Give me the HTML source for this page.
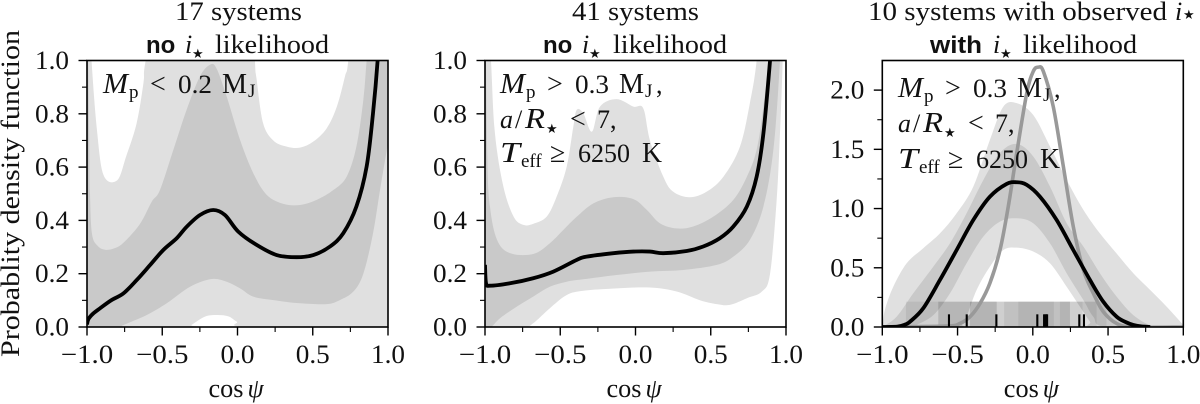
<!DOCTYPE html>
<html>
<head>
<meta charset="utf-8">
<title>Probability density of cos psi</title>
<style>
html,body{margin:0;padding:0;background:#fff;}
svg{display:block;}
text{font-family:"Liberation Serif","DejaVu Serif",serif;fill:#111;font-size:26px;}
.i{font-style:italic;}
.cap{font-size:28px;}
.sub{font-size:19px;}
.b{font-family:"Liberation Sans","DejaVu Sans",sans-serif;font-weight:bold;font-size:24px;}
.star{font-family:"DejaVu Sans",sans-serif;font-size:13px;}
</style>
</head>
<body>
<svg id="fig" width="1200" height="404" viewBox="0 0 1200 404" xmlns="http://www.w3.org/2000/svg">
  <g id="plots"></g>

  <text transform="translate(19,357) rotate(-90)" textLength="327" lengthAdjust="spacingAndGlyphs">Probablity density function</text>

  <text x="175" y="20" textLength="127" lengthAdjust="spacingAndGlyphs">17 systems</text>
  <text y="53"><tspan class="b" x="146">no</tspan><tspan class="i" x="185">i</tspan><tspan class="star" x="192" dy="5">★</tspan><tspan x="215" dy="-5" textLength="114" lengthAdjust="spacingAndGlyphs">likelihood</tspan></text>

  <text x="572" y="20" textLength="127" lengthAdjust="spacingAndGlyphs">41 systems</text>
  <text y="53"><tspan class="b" x="543">no</tspan><tspan class="i" x="582">i</tspan><tspan class="star" x="589" dy="5">★</tspan><tspan x="613" dy="-5" textLength="114" lengthAdjust="spacingAndGlyphs">likelihood</tspan></text>

  <text y="20"><tspan x="868" textLength="299" lengthAdjust="spacingAndGlyphs">10 systems with observed</tspan><tspan class="i" x="1175">i</tspan><tspan class="star" x="1183" dy="-1">★</tspan></text>
  <text y="53"><tspan class="b" x="930" textLength="52" lengthAdjust="spacingAndGlyphs">with</tspan><tspan class="i" x="993">i</tspan><tspan class="star" x="1000" dy="5">★</tspan><tspan x="1023" dy="-5" textLength="114" lengthAdjust="spacingAndGlyphs">likelihood</tspan></text>

  <text y="93"><tspan class="i cap" x="103" textLength="25" lengthAdjust="spacingAndGlyphs">M</tspan><tspan class="sub" x="129" dy="5">p</tspan><tspan class="cap" x="150" dy="-5">&lt;</tspan><tspan x="178" textLength="34" lengthAdjust="spacingAndGlyphs">0.2</tspan><tspan class="cap" x="222" textLength="25" lengthAdjust="spacingAndGlyphs">M</tspan><tspan class="sub" x="248" dy="4">J</tspan></text>

  <g transform="translate(500,0)">
    <text y="93"><tspan class="i cap" x="0" textLength="25" lengthAdjust="spacingAndGlyphs">M</tspan><tspan class="sub" x="26" dy="5">p</tspan><tspan class="cap" x="47" dy="-5">&gt;</tspan><tspan x="75" textLength="34" lengthAdjust="spacingAndGlyphs">0.3</tspan><tspan class="cap" x="119" textLength="25" lengthAdjust="spacingAndGlyphs">M</tspan><tspan class="sub" x="145" dy="4">J</tspan><tspan x="156" dy="-4">,</tspan></text>
    <text y="128"><tspan class="i" x="0">a</tspan><tspan x="15">/</tspan><tspan class="i cap" x="25" textLength="20" lengthAdjust="spacingAndGlyphs">R</tspan><tspan class="star" x="46" dy="5">★</tspan><tspan class="cap" x="70" dy="-5">&lt;</tspan><tspan x="97">7,</tspan></text>
    <text y="162"><tspan class="i cap" x="0" textLength="20" lengthAdjust="spacingAndGlyphs">T</tspan><tspan class="sub" x="21" dy="5">eff</tspan><tspan class="cap" x="50" dy="-5">≥</tspan><tspan x="78" textLength="52" lengthAdjust="spacingAndGlyphs">6250</tspan><tspan class="cap" x="142" textLength="20" lengthAdjust="spacingAndGlyphs">K</tspan></text>
  </g>

  <g transform="translate(898,0)">
    <text y="97"><tspan class="i cap" x="0" textLength="25" lengthAdjust="spacingAndGlyphs">M</tspan><tspan class="sub" x="26" dy="5">p</tspan><tspan class="cap" x="47" dy="-5">&gt;</tspan><tspan x="75" textLength="34" lengthAdjust="spacingAndGlyphs">0.3</tspan><tspan class="cap" x="119" textLength="25" lengthAdjust="spacingAndGlyphs">M</tspan><tspan class="sub" x="145" dy="4">J</tspan><tspan x="156" dy="-4">,</tspan></text>
    <text y="132"><tspan class="i" x="0">a</tspan><tspan x="15">/</tspan><tspan class="i cap" x="25" textLength="20" lengthAdjust="spacingAndGlyphs">R</tspan><tspan class="star" x="46" dy="5">★</tspan><tspan class="cap" x="70" dy="-5">&lt;</tspan><tspan x="97">7,</tspan></text>
    <text y="168"><tspan class="i cap" x="0" textLength="20" lengthAdjust="spacingAndGlyphs">T</tspan><tspan class="sub" x="21" dy="5">eff</tspan><tspan class="cap" x="50" dy="-5">≥</tspan><tspan x="78" textLength="52" lengthAdjust="spacingAndGlyphs">6250</tspan><tspan class="cap" x="142" textLength="20" lengthAdjust="spacingAndGlyphs">K</tspan></text>
  </g>
</svg>
<script>
// ---------- tick data ----------
const xTickValues = [-1, -0.5, 0, 0.5, 1];
const xTickLabels = ['−1.0', '−0.5', '0.0', '0.5', '1.0'];
const xMinorValues = [-0.75, -0.25, 0.25, 0.75];
const yTickValuesA = [0, 0.2, 0.4, 0.6, 0.8, 1];
const yTickLabelsA = ['0.0', '0.2', '0.4', '0.6', '0.8', '1.0'];
const yMinorValuesA = [0.1, 0.3, 0.5, 0.7, 0.9];
const yTickValuesB = [0, 0.5, 1, 1.5, 2];
const yTickLabelsB = ['0.0', '0.5', '1.0', '1.5', '2.0'];
const yMinorValuesB = [0.25, 0.75, 1.25, 1.75];

// ---------- panel 1 ----------
const p1OuterUpX = [-1, -0.97, -0.934, -0.89, -0.80, -0.74, -0.67, -0.625, -0.61, -0.5, 0, 0.1, 0.116, 0.127, 0.17, 0.238, 0.327, 0.415, 0.504, 0.593, 0.66, 0.714, 0.736, 0.78, 1];
const p1OuterUpY = [1.3, 1.0, 0.74, 0.57, 0.55, 0.64, 0.765, 0.915, 1.0, 1.3, 1.3, 1.3, 1.0, 0.93, 0.765, 0.70, 0.677, 0.673, 0.696, 0.746, 0.827, 0.94, 1.0, 1.3, 1.3];
const p1OuterLoX = [-1, -0.32, -0.305, -0.216, -0.138, -0.06, -0.005, 0.07, 1];
const p1OuterLoY = [0, 0, 0.008, 0.039, 0.045, 0.04, 0.02, 0, 0];
const p1InnerUpX = [-1, -0.985, -0.98, -0.967, -0.93, -0.88, -0.82, -0.76, -0.65, -0.57, -0.515, -0.426, -0.338, -0.25, -0.183, -0.14, -0.072, 0.017, 0.105, 0.194, 0.305, 0.415, 0.526, 0.637, 0.725, 0.79, 0.836, 0.858, 0.9, 1];
const p1InnerUpY = [1.3, 0.7, 0.5, 0.35, 0.305, 0.29, 0.295, 0.315, 0.385, 0.47, 0.514, 0.665, 0.815, 0.94, 0.984, 0.971, 0.865, 0.702, 0.577, 0.496, 0.462, 0.458, 0.477, 0.514, 0.564, 0.677, 0.852, 1.0, 1.3, 1.3];
const p1InnerLoX = [-1, -0.78, -0.76, -0.603, -0.47, -0.315, -0.172, -0.072, 0.017, 0.105, 0.238, 0.415, 0.593, 0.68, 0.77, 0.836, 0.90, 0.947, 1];
const p1InnerLoY = [0, 0, 0.007, 0.045, 0.089, 0.151, 0.18, 0.17, 0.145, 0.114, 0.101, 0.089, 0.086, 0.101, 0.133, 0.2, 0.35, 0.514, 0.69];
const p1MeanX = [-1, -0.99, -0.96, -0.914, -0.84, -0.758, -0.67, -0.58, -0.493, -0.404, -0.338, -0.25, -0.161, -0.083, 0.005, 0.127, 0.26, 0.393, 0.504, 0.615, 0.703, 0.79, 0.858, 0.90, 0.931, 0.95];
const p1MeanY = [0.01, 0.03, 0.05, 0.07, 0.10, 0.126, 0.176, 0.233, 0.289, 0.333, 0.376, 0.42, 0.439, 0.42, 0.358, 0.308, 0.27, 0.262, 0.27, 0.302, 0.352, 0.452, 0.602, 0.80, 1.0, 1.2];

// ---------- panel 2 ----------
const p2OuterUpX = [-1, -0.96, -0.934, -0.878, -0.81, -0.745, -0.68, -0.59, -0.524, -0.457, -0.413, -0.39, -0.347, -0.29, -0.236, -0.125, -0.014, 0.052, 0.096, 0.185, 0.25, 0.36, 0.473, 0.584, 0.694, 0.76, 0.805, 0.85, 1];
const p2OuterUpY = [1.5, 1.0, 0.727, 0.527, 0.414, 0.383, 0.387, 0.414, 0.489, 0.602, 0.752, 0.815, 0.802, 0.733, 0.827, 0.855, 0.827, 0.82, 0.70, 0.564, 0.508, 0.487, 0.508, 0.564, 0.677, 0.84, 1.0, 1.3, 1.3];
const p2OuterLoX = [-1, -0.745, -0.68, -0.57, -0.457, -0.347, -0.125, 0.096, 0.273, 0.43, 0.54, 0.627, 0.74, 0.84, 0.894, 0.938, 0.96, 0.978, 0.99, 1];
const p2OuterLoY = [0, 0, 0.014, 0.07, 0.12, 0.136, 0.145, 0.148, 0.133, 0.10, 0.086, 0.083, 0.108, 0.133, 0.2, 0.477, 0.727, 1.0, 1.3, 1.3];
const p2InnerUpX = [-1, -0.985, -0.967, -0.92, -0.834, -0.68, -0.57, -0.48, -0.39, -0.28, -0.147, -0.014, 0.074, 0.163, 0.273, 0.384, 0.517, 0.65, 0.74, 0.805, 0.85, 0.883, 0.92, 1];
const p2InnerUpY = [1.3, 0.65, 0.452, 0.327, 0.277, 0.274, 0.314, 0.364, 0.414, 0.464, 0.487, 0.48, 0.44, 0.389, 0.37, 0.377, 0.414, 0.477, 0.564, 0.665, 0.827, 1.0, 1.3, 1.3];
const p2InnerLoX = [-1, -0.96, -0.9, -0.79, -0.68, -0.57, -0.457, -0.347, -0.125, 0.096, 0.318, 0.54, 0.65, 0.76, 0.85, 0.916, 0.96, 0.98, 1];
const p2InnerLoY = [0, 0, 0.033, 0.076, 0.114, 0.151, 0.17, 0.179, 0.195, 0.208, 0.214, 0.233, 0.264, 0.327, 0.452, 0.665, 1.0, 1.3, 1.3];
const p2MeanX = [-1, -0.993, -0.967, -0.834, -0.68, -0.546, -0.39, -0.325, -0.147, -0.014, 0.096, 0.185, 0.34, 0.45, 0.56, 0.65, 0.74, 0.805, 0.85, 0.894, 0.92];
const p2MeanY = [0.233, 0.164, 0.155, 0.164, 0.183, 0.208, 0.252, 0.264, 0.277, 0.283, 0.283, 0.277, 0.285, 0.302, 0.333, 0.377, 0.452, 0.564, 0.727, 1.0, 1.2];

// ---------- panel 3 ----------
const p3OuterUpX = [-1, -0.98, -0.927, -0.838, -0.728, -0.617, -0.506, -0.395, -0.285, -0.196, -0.107, 0.003, 0.114, 0.225, 0.336, 0.446, 0.557, 0.668, 0.779, 0.889, 1];
const p3OuterUpY = [0.017, 0.158, 0.34, 0.538, 0.665, 0.79, 0.96, 1.186, 1.58, 1.86, 1.89, 1.79, 1.524, 1.242, 0.989, 0.79, 0.62, 0.454, 0.313, 0.172, 0.017];
const p3OuterLoX = [-1, -0.5, -0.47, -0.44, -0.373, -0.285, -0.196, -0.107, 0.003, 0.114, 0.225, 0.313, 0.38, 0.413, 1];
const p3OuterLoY = [0, 0, 0.02, 0.087, 0.313, 0.51, 0.65, 0.67, 0.637, 0.538, 0.34, 0.172, 0.045, 0, 0];
const p3InnerUpX = [-1, -0.905, -0.794, -0.661, -0.55, -0.44, -0.329, -0.218, -0.107, 0.003, 0.114, 0.225, 0.336, 0.446, 0.557, 0.668, 0.779, 0.889, 1];
const p3InnerUpY = [0, 0.087, 0.285, 0.51, 0.707, 0.96, 1.24, 1.47, 1.546, 1.44, 1.186, 0.876, 0.68, 0.454, 0.256, 0.10, 0.017, 0, 0];
const p3InnerLoX = [-1, -0.80, -0.772, -0.661, -0.55, -0.44, -0.329, -0.218, -0.107, 0.003, 0.114, 0.225, 0.336, 0.402, 0.49, 1];
const p3InnerLoY = [0, 0, 0.017, 0.10, 0.285, 0.538, 0.763, 0.89, 0.918, 0.876, 0.707, 0.454, 0.228, 0.087, 0, 0];
const p3MeanX = [-1, -0.9, -0.85, -0.816, -0.728, -0.617, -0.506, -0.395, -0.285, -0.174, -0.107, -0.04, 0.048, 0.158, 0.269, 0.38, 0.468, 0.557, 0.62, 0.668, 0.72, 0.78];
const p3MeanY = [0, 0.003, 0.02, 0.045, 0.158, 0.397, 0.65, 0.904, 1.10, 1.208, 1.222, 1.2, 1.10, 0.904, 0.65, 0.397, 0.214, 0.087, 0.04, 0.017, 0.005, 0];
const p3GrayX = [-1, -0.573, -0.484, -0.417, -0.35, -0.285, -0.218, -0.163, -0.107, -0.04, 0.003, 0.037, 0.07, 0.136, 0.203, 0.269, 0.336, 0.402, 0.468, 0.557, 0.668, 1];
const p3GrayY = [0, 0.008, 0.03, 0.087, 0.2, 0.37, 0.65, 1.017, 1.468, 1.975, 2.158, 2.194, 2.158, 1.86, 1.355, 0.848, 0.482, 0.285, 0.13, 0.03, 0, 0];
const rugValues = [-0.557, -0.439, -0.242, 0.03, 0.075, 0.084, 0.09, 0.095, 0.309, 0.34];
const rugHeight = 0.107;
const intervalLo = [-0.843, -0.628, -0.628, -0.417, -0.417, -0.19, -0.19, -0.096, 0.14, 0.18];
const intervalHi = [-0.24, -0.24, 0.14, -0.19, 0.33, 0.247, 0.247, 0.14, 0.49, 0.424];
const intervalTop = 0.214;

// ---------- drawing ----------
const NS = 'http://www.w3.org/2000/svg';
const root = document.getElementById('plots');
const AX_TOP = 60.5, AX_BOTTOM = 327, AX_WIDTH = 301;

function make(parent, tag, attrs) {
  const el = document.createElementNS(NS, tag);
  for (const k in attrs) el.setAttribute(k, attrs[k]);
  parent.appendChild(el);
  return el;
}
function smooth(pts) {
  let d = '';
  for (let i = 0; i < pts.length - 1; i++) {
    const p0 = pts[Math.max(0, i - 1)], p1 = pts[i], p2 = pts[i + 1], p3 = pts[Math.min(pts.length - 1, i + 2)];
    const c1x = p1[0] + (p2[0] - p0[0]) / 6, c1y = p1[1] + (p2[1] - p0[1]) / 6;
    const c2x = p2[0] - (p3[0] - p1[0]) / 6, c2y = p2[1] - (p3[1] - p1[1]) / 6;
    d += 'C' + c1x.toFixed(2) + ' ' + c1y.toFixed(2) + ' ' + c2x.toFixed(2) + ' ' + c2y.toFixed(2) + ' ' + p2[0].toFixed(2) + ' ' + p2[1].toFixed(2);
  }
  return d;
}
function labelWidth(s) {
  let w = 0;
  for (const c of s) w += c === '−' ? 18.5 : c === '.' ? 7.4 : 13.3;
  return w;
}

function drawPanel(cfg) {
  const sx = v => cfg.left + (v + 1) / 2 * AX_WIDTH;
  const sy = v => AX_BOTTOM - v / cfg.yMax * (AX_BOTTOM - AX_TOP);
  const pts = (xs, ys) => xs.map((x, i) => [sx(x), sy(ys[i])]);
  const curve = (xs, ys) => { const p = pts(xs, ys); return 'M' + p[0][0].toFixed(2) + ' ' + p[0][1].toFixed(2) + smooth(p); };
  const band = (ux, uy, lx, ly) => {
    const u = pts(ux, uy), l = pts(lx, ly).reverse();
    return 'M' + u[0][0] + ' ' + u[0][1] + smooth(u) + 'L' + l[0][0] + ' ' + l[0][1] + smooth(l) + 'Z';
  };

  const g = make(root, 'g', {});
  
  

  const clip = make(g, 'clipPath', { id: 'clip' + cfg.id });
  make(clip, 'rect', { x: cfg.left, y: AX_TOP, width: AX_WIDTH, height: AX_BOTTOM - AX_TOP });
  const plot = make(g, 'g', { 'clip-path': 'url(#clip' + cfg.id + ')' });

  const outer = make(plot, 'path', { d: band(cfg.ou[0], cfg.ou[1], cfg.ol[0], cfg.ol[1]), fill: '#e0e0e0' });
  
  
  const inner = make(plot, 'path', { d: band(cfg.iu[0], cfg.iu[1], cfg.il[0], cfg.il[1]), fill: '#c9c9c9' });
  
  

  if (cfg.rug) {
    intervalLo.forEach((lo, i) => {
      const r = make(plot, 'rect', { x: sx(lo), y: sy(intervalTop), width: sx(intervalHi[i]) - sx(lo), height: sy(0) - sy(intervalTop), fill: '#000', 'fill-opacity': 0.065 });
      
      
    });
    const gray = make(plot, 'path', { d: curve(p3GrayX, p3GrayY), fill: 'none', stroke: '#999', 'stroke-width': 3.6 });
    
    
  }

  const mean = make(plot, 'path', { d: curve(cfg.m[0], cfg.m[1]), fill: 'none', stroke: '#000', 'stroke-width': 3.8 });
  
  

  if (cfg.rug) {
    rugValues.forEach(v => {
      const t = make(plot, 'line', { x1: sx(v), x2: sx(v), y1: sy(0), y2: sy(rugHeight), stroke: '#000', 'stroke-width': 2.1 });
      
      
    });
  }

  const frame = make(g, 'rect', { x: cfg.left, y: AX_TOP, width: AX_WIDTH, height: AX_BOTTOM - AX_TOP, fill: 'none', stroke: '#000', 'stroke-width': 1.6 });
  
  

  xTickValues.forEach((v, i) => {
    const t = make(g, 'line', { x1: sx(v), x2: sx(v), y1: AX_BOTTOM, y2: AX_BOTTOM + 8.5, stroke: '#000', 'stroke-width': 1.4 });
    
    
    const s = xTickLabels[i];
    const w = labelWidth(s);
    const lab = make(g, 'text', { x: sx(v) - w / 2, y: 363, textLength: w, lengthAdjust: 'spacingAndGlyphs' });
    lab.textContent = s;
    
    
  });
  xMinorValues.forEach(v => {
    const t = make(g, 'line', { x1: sx(v), x2: sx(v), y1: AX_BOTTOM, y2: AX_BOTTOM + 5, stroke: '#000', 'stroke-width': 1.1 });
    
    
  });
  cfg.yt.forEach((v, i) => {
    const t = make(g, 'line', { x1: cfg.left - 8.5, x2: cfg.left, y1: sy(v), y2: sy(v), stroke: '#000', 'stroke-width': 1.4 });
    
    
    const s = cfg.yl[i];
    const w = labelWidth(s);
    const lab = make(g, 'text', { x: cfg.left - 18 - w, y: sy(v) + 8.5, textLength: w, lengthAdjust: 'spacingAndGlyphs' });
    lab.textContent = s;
    
    
  });
  cfg.ym.forEach(v => {
    const t = make(g, 'line', { x1: cfg.left - 5, x2: cfg.left, y1: sy(v), y2: sy(v), stroke: '#000', 'stroke-width': 1.1 });
    
    
  });

  const xl = make(g, 'text', { y: 397 });
  
  
  const c = make(xl, 'tspan', { x: sx(0) - 29, textLength: 35, lengthAdjust: 'spacingAndGlyphs' });
  c.textContent = 'cos';
  const psi = make(xl, 'tspan', { x: sx(0) + 10, class: 'i' });
  psi.textContent = 'ψ';
}

drawPanel({ id: 1, left: 87, yMax: 1, yt: yTickValuesA, yl: yTickLabelsA, ym: yMinorValuesA,
  ou: [p1OuterUpX, p1OuterUpY], ol: [p1OuterLoX, p1OuterLoY], iu: [p1InnerUpX, p1InnerUpY], il: [p1InnerLoX, p1InnerLoY], m: [p1MeanX, p1MeanY] });
drawPanel({ id: 2, left: 485, yMax: 1, yt: yTickValuesA, yl: yTickLabelsA, ym: yMinorValuesA,
  ou: [p2OuterUpX, p2OuterUpY], ol: [p2OuterLoX, p2OuterLoY], iu: [p2InnerUpX, p2InnerUpY], il: [p2InnerLoX, p2InnerLoY], m: [p2MeanX, p2MeanY] });
drawPanel({ id: 3, left: 882.3, yMax: 2.25, yt: yTickValuesB, yl: yTickLabelsB, ym: yMinorValuesB, rug: true,
  ou: [p3OuterUpX, p3OuterUpY], ol: [p3OuterLoX, p3OuterLoY], iu: [p3InnerUpX, p3InnerUpY], il: [p3InnerLoX, p3InnerLoY], m: [p3MeanX, p3MeanY] });
</script>
</body>
</html>
